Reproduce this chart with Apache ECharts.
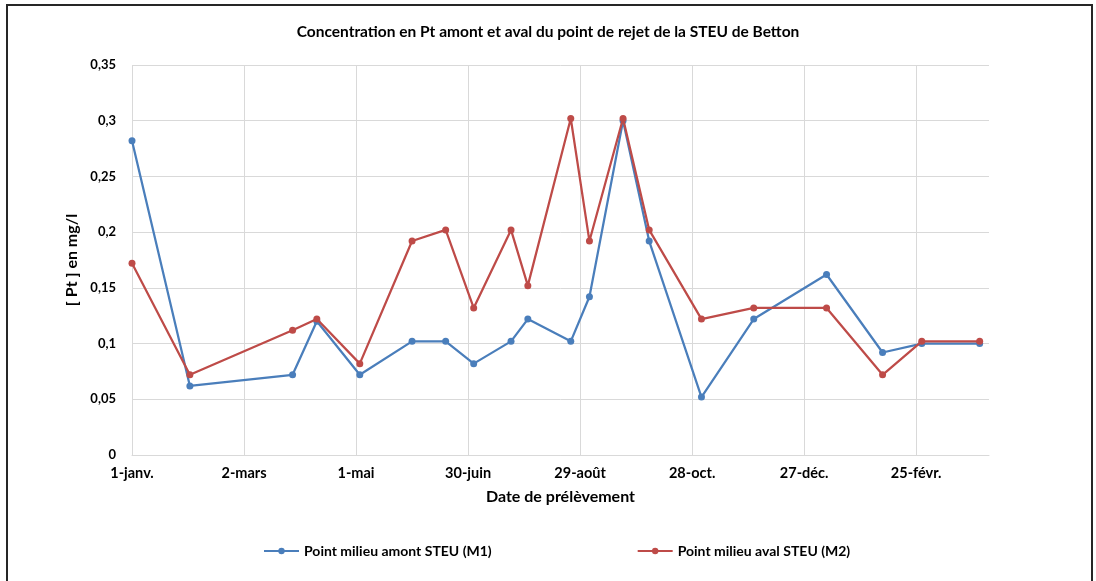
<!DOCTYPE html>
<html>
<head>
<meta charset="utf-8">
<script src="https://cdn.jsdelivr.net/npm/echarts@6/dist/echarts.min.js"></script>
<style>
html, body { margin: 0; padding: 0; background: #fff; }
#main { width: 1096px; height: 581px; }
</style>
</head>
<body>
<div id="main"></div>
<script>
// dates de prélèvement, en jours depuis le 1-janv.
var joursPrelevement = [0, 31, 86, 99, 122, 150, 168, 183, 203, 212, 235, 245, 263, 277, 305, 333, 372, 402, 423, 454];
// Point milieu amont STEU (M1)
var ptAmont = [0.282, 0.062, 0.072, 0.12, 0.072, 0.102, 0.102, 0.082, 0.102, 0.122, 0.102, 0.142, 0.3, 0.192, 0.052, 0.122, 0.162, 0.092, 0.1, 0.1];
// Point milieu aval STEU (M2)
var ptAval = [0.172, 0.072, 0.112, 0.122, 0.082, 0.192, 0.202, 0.132, 0.202, 0.152, 0.302, 0.192, 0.302, 0.202, 0.122, 0.132, 0.132, 0.072, 0.102, 0.102];
// étiquettes de l'axe des dates (une tous les 60 jours)
var etiquettesDates = ['1-janv.', '2-mars', '1-mai', '30-juin', '29-août', '28-oct.', '27-déc.', '25-févr.'];
var nomsSeries = ['Point milieu amont STEU (M1)', 'Point milieu aval STEU (M2)'];

var police = 'Lato, "Liberation Sans", sans-serif';

var chart = echarts.init(document.getElementById('main'));

var toPoints = function (jours, valeurs) {
    var pts = [];
    for (var i = 0; i < jours.length; i++) {
        pts.push([jours[i], valeurs[i]]);
    }
    return pts;
};

var option = {
    backgroundColor: '#fff',
    animation: false,
    textStyle: { fontFamily: police },
    title: {
        text: 'Concentration en Pt amont et aval du point de rejet de la STEU de Betton',
        left: 'center',
        top: 19,
        textStyle: { fontFamily: police, fontSize: 15.5, fontWeight: 'bold', color: '#000' }
    },
    legend: {
        data: nomsSeries,
        left: 258,
        top: 539,
        itemWidth: 35,
        itemHeight: 8,
        itemGap: 145,
        textStyle: { fontFamily: police, fontSize: 14, fontWeight: 'bold', color: '#000' }
    },
    grid: { left: 132, right: 107, top: 65, bottom: 126, containLabel: false },
    xAxis: {
        type: 'value',
        min: 0,
        max: 459,
        interval: 60,
        name: 'Date de prélèvement',
        nameLocation: 'middle',
        nameGap: 34,
        nameTextStyle: { fontFamily: police, fontSize: 16, fontWeight: 'bold', color: '#000' },
        axisLine: { lineStyle: { color: '#d9d9d9', width: 1 } },
        axisTick: { show: false },
        axisLabel: {
            margin: 11,
            fontFamily: police,
            fontSize: 14.5,
            fontWeight: 'bold',
            color: '#000',
            showMaxLabel: false,
            formatter: function (v) {
                var idx = Math.round(v / 60);
                return (v % 60 === 0 && etiquettesDates[idx]) ? etiquettesDates[idx] : '';
            }
        },
        splitLine: { show: true, showMaxLine: false, lineStyle: { color: '#d9d9d9', width: 1 } }
    },
    yAxis: {
        type: 'value',
        min: 0,
        max: 0.35,
        interval: 0.05,
        name: '[ Pt ] en mg/l',
        nameLocation: 'middle',
        nameGap: 43,
        nameTextStyle: { fontFamily: police, fontSize: 16, fontWeight: 'bold', color: '#000' },
        axisLine: { show: false },
        axisTick: { show: false },
        axisLabel: {
            margin: 16,
            fontFamily: police,
            fontSize: 13,
            fontWeight: 'bold',
            color: '#000',
            formatter: function (v) {
                return String(Math.round(v * 100) / 100).replace('.', ',');
            }
        },
        splitLine: { lineStyle: { color: '#d9d9d9', width: 1 } }
    },
    series: [{
        name: nomsSeries[0],
        type: 'line',
        data: toPoints(joursPrelevement, ptAmont),
        symbol: 'circle',
        symbolSize: 7,
        color: '#4a7ebb',
        lineStyle: { width: 2.25, color: '#4a7ebb' },
        itemStyle: { color: '#4a7ebb' },
        z: 2
    }, {
        name: nomsSeries[1],
        type: 'line',
        data: toPoints(joursPrelevement, ptAval),
        symbol: 'circle',
        symbolSize: 7,
        color: '#be4b48',
        lineStyle: { width: 2.25, color: '#be4b48' },
        itemStyle: { color: '#be4b48' },
        z: 3
    }],
    graphic: [{
        type: 'rect',
        shape: { x: 7, y: 5, width: 1085, height: 620 },
        style: { fill: 'none', stroke: '#262626', lineWidth: 2 },
        silent: true
    }]
};

chart.setOption(option);
</script>
</body>
</html>
